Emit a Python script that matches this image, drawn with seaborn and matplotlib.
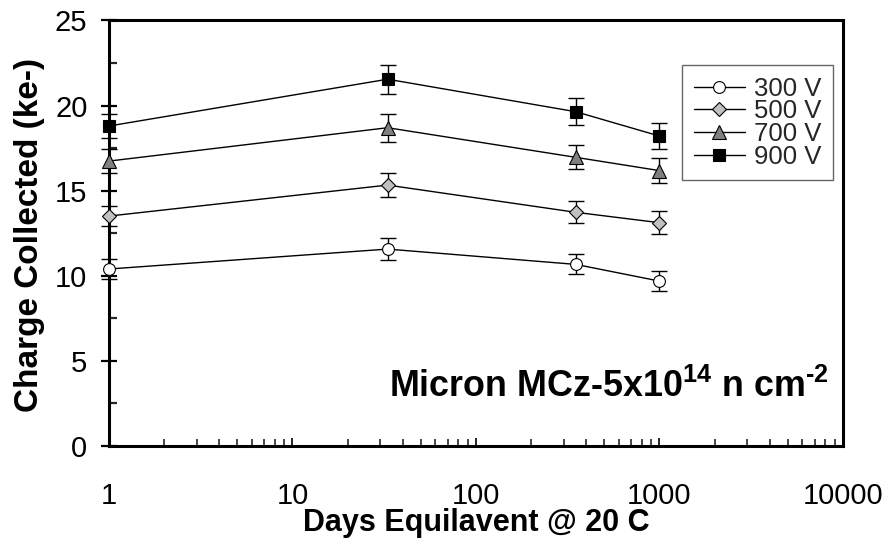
import numpy as np
import pandas as pd
import matplotlib
matplotlib.use("Agg")
import matplotlib.pyplot as plt
from matplotlib.ticker import LogLocator, MultipleLocator, FuncFormatter, NullFormatter
import seaborn as sns

# Annealing time (days equivalent at 20 C)
days = [1, 33, 350, 1000]

# Collected charge (ke-) per bias voltage
charge_300 = [10.40, 11.57, 10.67, 9.69]
charge_500 = [13.51, 15.33, 13.73, 13.12]
charge_700 = [16.74, 18.70, 16.96, 16.18]
charge_900 = [18.80, 21.55, 19.64, 18.21]

# Uncertainties (ke-)
err_300 = [0.60, 0.63, 0.59, 0.61]
err_500 = [0.61, 0.69, 0.64, 0.66]
err_700 = [0.70, 0.83, 0.70, 0.73]
err_900 = [0.73, 0.86, 0.80, 0.76]

labels = ["300 V", "500 V", "700 V", "900 V"]
markers = ["o", "D", "^", "s"]
faces = ["white", "#c0c0c0", "#808080", "black"]
sizes = [8.5, 7.0, 9.5, 8.0]

sns.set_theme(style="white")
plt.rcParams["font.family"] = ["Liberation Sans", "DejaVu Sans"]
plt.rcParams["mathtext.fontset"] = "custom"
plt.rcParams["mathtext.rm"] = "Liberation Sans"
plt.rcParams["mathtext.bf"] = "Liberation Sans:bold"

fig = plt.figure(figsize=(8.88, 5.39), dpi=100)
ax = fig.add_axes([0.1227, 0.1725, 0.8266, 0.7895])

series = [charge_300, charge_500, charge_700, charge_900]
errors = [err_300, err_500, err_700, err_900]

for vals, errs, lab, mk, fc, ms in zip(series, errors, labels, markers, faces, sizes):
    df = pd.DataFrame({"days": days, "charge": vals})
    ax.errorbar(df["days"], df["charge"], yerr=errs, fmt="none", ecolor="black",
                elinewidth=1.0, capsize=5.5, capthick=1.0, zorder=2, clip_on=False)
    sns.lineplot(data=df, x="days", y="charge", ax=ax, color="black", linewidth=1.0,
                 marker=mk, markersize=ms, markerfacecolor=fc, markeredgecolor="black",
                 markeredgewidth=0.8, label=lab, zorder=3, clip_on=False)

ax.set_xscale("log")
ax.set_xlim(1, 10000)
ax.set_ylim(0, 25)
ax.xaxis.set_major_locator(LogLocator(base=10, numticks=10))
ax.xaxis.set_minor_locator(LogLocator(base=10, subs=np.arange(2, 10), numticks=10))
ax.xaxis.set_major_formatter(FuncFormatter(lambda v, p: f"{v:g}"))
ax.xaxis.set_minor_formatter(NullFormatter())
ax.yaxis.set_major_locator(MultipleLocator(5))
ax.yaxis.set_minor_locator(MultipleLocator(2.5))

for s in ax.spines.values():
    s.set_linewidth(2.2)
    s.set_color("black")

ax.tick_params(axis="x", which="major", direction="in", length=6, width=1.2,
               labelsize=21, pad=26, colors="black", bottom=True, top=False)
ax.tick_params(axis="x", which="minor", direction="in", length=5, width=1.2,
               bottom=True, top=False)
ax.tick_params(axis="y", which="major", direction="inout", length=11, width=1.6,
               labelsize=21, pad=10, colors="black", left=True, right=False)
ax.tick_params(axis="y", which="minor", direction="in", length=6, width=1.6,
               left=True, right=False)

ax.set_xlabel("Days Equilavent @ 20 C", fontsize=22, fontweight="bold", color="black")
ax.set_ylabel("Charge Collected (ke-)", fontsize=24, fontweight="bold", color="black")
ax.xaxis.label.set_va("baseline")
ax.yaxis.label.set_va("center")
ax.xaxis.set_label_coords(0.5, -0.199)
ax.yaxis.set_label_coords(-0.108, 0.495)

ax.text(0.98, 0.115, "Micron MCz-5x10$^{\\mathbf{14}}$ n cm$^{\\mathbf{\u2010 2}}$",
        transform=ax.transAxes, ha="right", va="baseline", fontsize=25.8,
        fontweight="bold", color="black")

leg = ax.legend(loc="upper left", bbox_to_anchor=(0.781, 0.895), borderaxespad=0,
                fontsize=18.5, frameon=True, fancybox=False, handlelength=2.0,
                handletextpad=0.35, labelspacing=-0.05, borderpad=0.45)
leg.get_frame().set_edgecolor("#404040")
leg.get_frame().set_linewidth(1.0)

fig.savefig("out.png", dpi=100, facecolor="white")
